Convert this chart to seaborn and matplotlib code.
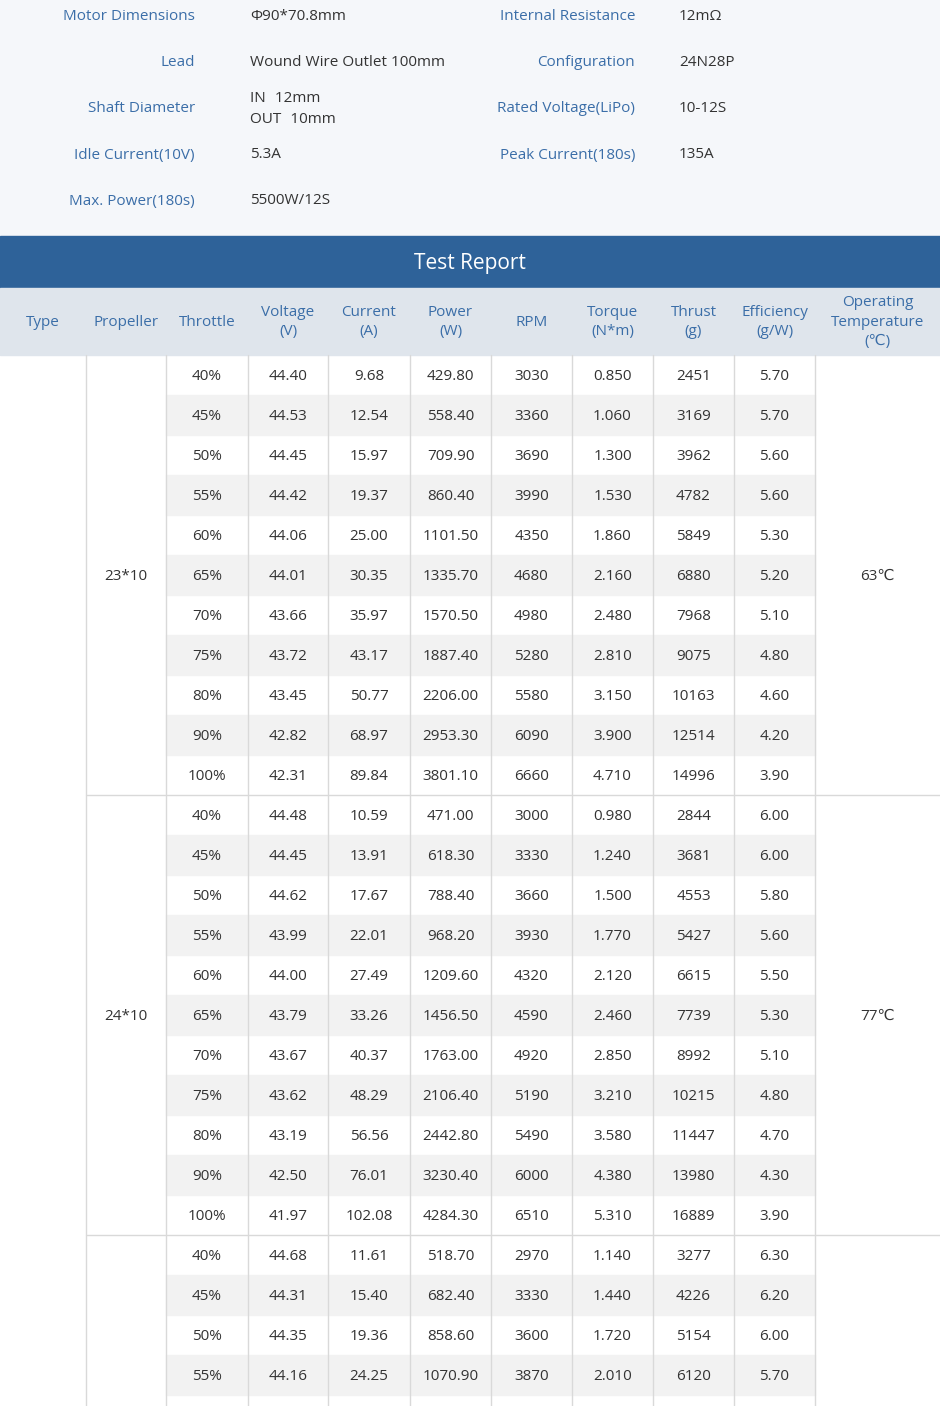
import matplotlib.pyplot as plt
import seaborn as sns
from matplotlib.patches import Rectangle

sns.set_theme(style="white")
FONT = ["Open Sans", "Noto Sans CJK SC", "DejaVu Sans"]

# ---- spec data ----
spec_left_labels = ["Motor Dimensions", "Lead", "Shaft Diameter", "Idle Current(10V)", "Max. Power(180s)"]
spec_left_values = ["Φ90*70.8mm", "Wound Wire Outlet 100mm", "IN：12mm\nOUT：10mm", "5.3A", "5500W/12S"]
spec_right_labels = ["Internal Resistance", "Configuration", "Rated Voltage(LiPo)", "Peak Current(180s)"]
spec_right_values = ["12mΩ", "24N28P", "10-12S", "135A"]

# ---- table data ----
headers = ["Type", "Propeller", "Throttle", "Voltage\n(V)", "Current\n(A)", "Power\n(W)", "RPM",
           "Torque\n(N*m)", "Thrust\n(g)", "Efficiency\n(g/W)", "Operating\nTemperature\n(℃)"]
col_edges = [0, 86, 166, 248, 328, 410, 491, 572, 653, 734, 815, 940]

throttle = ["40%", "45%", "50%", "55%", "60%", "65%", "70%", "75%", "80%", "90%", "100%"]
propellers = ["23*10", "24*10", ""]
temps = ["63℃", "77℃", ""]
voltage = [["44.40", "44.53", "44.45", "44.42", "44.06", "44.01", "43.66", "43.72", "43.45", "42.82", "42.31"],
           ["44.48", "44.45", "44.62", "43.99", "44.00", "43.79", "43.67", "43.62", "43.19", "42.50", "41.97"],
           ["44.68", "44.31", "44.35", "44.16"]]
current = [["9.68", "12.54", "15.97", "19.37", "25.00", "30.35", "35.97", "43.17", "50.77", "68.97", "89.84"],
           ["10.59", "13.91", "17.67", "22.01", "27.49", "33.26", "40.37", "48.29", "56.56", "76.01", "102.08"],
           ["11.61", "15.40", "19.36", "24.25"]]
power = [["429.80", "558.40", "709.90", "860.40", "1101.50", "1335.70", "1570.50", "1887.40", "2206.00", "2953.30", "3801.10"],
         ["471.00", "618.30", "788.40", "968.20", "1209.60", "1456.50", "1763.00", "2106.40", "2442.80", "3230.40", "4284.30"],
         ["518.70", "682.40", "858.60", "1070.90"]]
rpm = [["3030", "3360", "3690", "3990", "4350", "4680", "4980", "5280", "5580", "6090", "6660"],
       ["3000", "3330", "3660", "3930", "4320", "4590", "4920", "5190", "5490", "6000", "6510"],
       ["2970", "3330", "3600", "3870"]]
torque = [["0.850", "1.060", "1.300", "1.530", "1.860", "2.160", "2.480", "2.810", "3.150", "3.900", "4.710"],
          ["0.980", "1.240", "1.500", "1.770", "2.120", "2.460", "2.850", "3.210", "3.580", "4.380", "5.310"],
          ["1.140", "1.440", "1.720", "2.010"]]
thrust = [["2451", "3169", "3962", "4782", "5849", "6880", "7968", "9075", "10163", "12514", "14996"],
          ["2844", "3681", "4553", "5427", "6615", "7739", "8992", "10215", "11447", "13980", "16889"],
          ["3277", "4226", "5154", "6120"]]
efficiency = [["5.70", "5.70", "5.60", "5.60", "5.30", "5.20", "5.10", "4.80", "4.60", "4.20", "3.90"],
              ["6.00", "6.00", "5.80", "5.60", "5.50", "5.30", "5.10", "4.80", "4.70", "4.30", "3.90"],
              ["6.30", "6.20", "6.00", "5.70"]]

BLUE_TXT = "#3b6ea8"
DARK = "#333333"
BANNER = "#2e6299"
HEAD_BG = "#dfe5ec"
TOP_BG = "#f5f7fa"
STRIPE = "#f2f2f2"
LINE = "#d9d9d9"

fig = plt.figure(figsize=(9.4, 14.06), dpi=100)
ax = fig.add_axes([0, 0, 1, 1])
ax.set_xlim(0, 940)
ax.set_ylim(1406, 0)
ax.axis("off")

# spec block
ax.add_patch(Rectangle((0, 0), 940, 236, color=TOP_BG, zorder=0))
spec_y0, spec_dy = 17, 46
for i, (lab, val) in enumerate(zip(spec_left_labels, spec_left_values)):
    y = spec_y0 + i * spec_dy
    ax.text(195, y, lab, ha="right", va="center", color=BLUE_TXT, fontsize=11, family=FONT)
    ax.text(250, y, val, ha="left", va="center", color=DARK, fontsize=11, family=FONT, linespacing=1.5)
for i, (lab, val) in enumerate(zip(spec_right_labels, spec_right_values)):
    y = spec_y0 + i * spec_dy
    ax.text(635, y, lab, ha="right", va="center", color=BLUE_TXT, fontsize=11, family=FONT)
    ax.text(679, y, val, ha="left", va="center", color=DARK, fontsize=11, family=FONT)

# banner
ax.add_patch(Rectangle((0, 236), 940, 52, color=BANNER, zorder=0))
ax.text(470, 263, "Test Report", ha="center", va="center", color="white", fontsize=15, family=FONT)

# header row
ax.add_patch(Rectangle((0, 288), 940, 67, color=HEAD_BG, zorder=0))
for j, h in enumerate(headers):
    xc = (col_edges[j] + col_edges[j + 1]) / 2
    ax.text(xc, 322, h, ha="center", va="center", color=BLUE_TXT, fontsize=11, family=FONT, linespacing=1.4)

# body
row_h, top = 40, 355
columns = [voltage, current, power, rpm, torque, thrust, efficiency]
y = top
for g, prop in enumerate(propellers):
    n = len(voltage[g])
    full = len(throttle)
    for r in range(full):
        ry = y + r * row_h
        if ry >= 1406:
            break
        if r % 2 == 1:
            ax.add_patch(Rectangle((col_edges[2], ry), col_edges[10] - col_edges[2], row_h, color=STRIPE, zorder=0))
        if r < n:
            cy = ry + row_h / 2 + 1.5
            ax.text((col_edges[2] + col_edges[3]) / 2, cy, throttle[r], ha="center", va="center",
                    color=DARK, fontsize=11, family=FONT)
            for k, col in enumerate(columns):
                xc = (col_edges[3 + k] + col_edges[4 + k]) / 2
                ax.text(xc, cy, col[g][r], ha="center", va="center", color=DARK, fontsize=11, family=FONT)
    mid = y + full * row_h / 2 + 1.5
    ax.text((col_edges[1] + col_edges[2]) / 2, mid, prop, ha="center", va="center", color=DARK, fontsize=11, family=FONT)
    ax.text((col_edges[10] + col_edges[11]) / 2, mid, temps[g], ha="center", va="center", color=DARK, fontsize=11, family=FONT)
    if g > 0:
        ax.plot([col_edges[1], 940], [y, y], color=LINE, lw=1)
    y += full * row_h

for xe in col_edges[1:-1]:
    ax.plot([xe, xe], [top, 1406], color=LINE, lw=1)

fig.savefig("out.png", dpi=100)
